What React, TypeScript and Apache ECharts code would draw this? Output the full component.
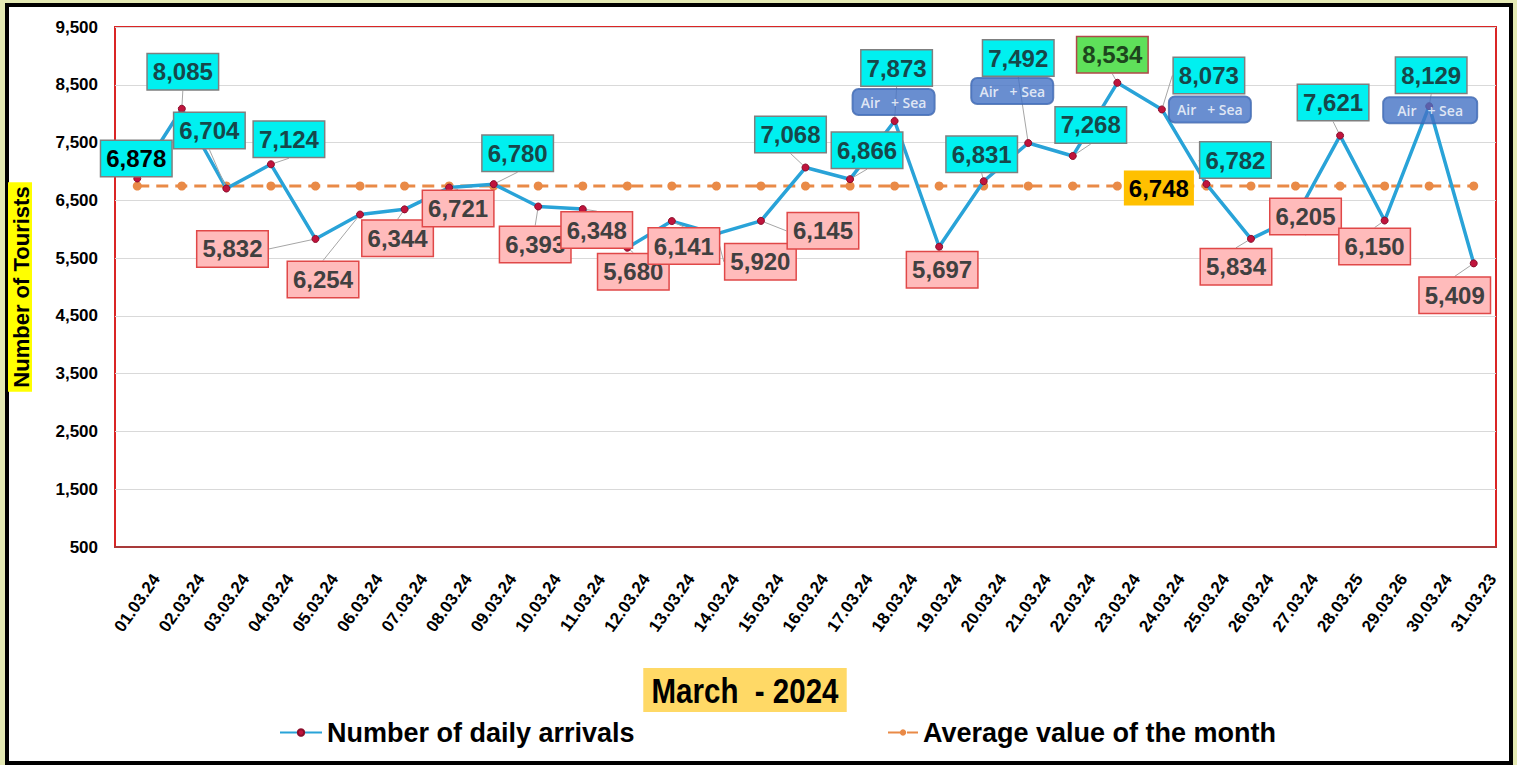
import React, { useEffect, useRef } from 'react';
import * as echarts from 'echarts';

const days = [
  '01.03.24', '02.03.24', '03.03.24', '04.03.24', '05.03.24', '06.03.24', '07.03.24', '08.03.24',
  '09.03.24', '10.03.24', '11.03.24', '12.03.24', '13.03.24', '14.03.24', '15.03.24', '16.03.24',
  '17.03.24', '18.03.24', '19.03.24', '20.03.24', '21.03.24', '22.03.24', '23.03.24', '24.03.24',
  '25.03.24', '26.03.24', '27.03.24', '28.03.25', '29.03.26', '30.03.24', '31.03.23',
];

const dailyArrivals = [
  6878, 8085, 6704, 7124, 5832, 6254, 6344, 6721, 6780, 6393, 6348, 5680, 6141, 5920, 6145, 7068,
  6866, 7873, 5697, 6831, 7492, 7268, 8534, 8073, 6782, 5834, 6205, 7621, 6150, 8129, 5409,
];

const monthAverage = [
  6748, 6748, 6748, 6748, 6748, 6748, 6748, 6748, 6748, 6748, 6748, 6748, 6748, 6748, 6748, 6748,
  6748, 6748, 6748, 6748, 6748, 6748, 6748, 6748, 6748, 6748, 6748, 6748, 6748, 6748, 6748,
];

// label box kind per day: first / hi (cyan) / lo (pink) / max (green)
const labelKind = [
  'first', 'hi', 'hi', 'hi', 'lo', 'lo', 'lo', 'lo', 'hi', 'lo', 'lo', 'lo', 'lo', 'lo', 'lo', 'hi',
  'hi', 'hi', 'lo', 'hi', 'hi', 'hi', 'max', 'hi', 'hi', 'lo', 'lo', 'hi', 'lo', 'hi', 'lo',
];

const airSeaDays = ['18.03.24', '21.03.24', '24.03.24', '30.03.24'];
const airSeaText = 'Air   + Sea';
const averageLabelDay = '24.03.24';

const yMin = 500;
const yMax = 9500;
const yStep = 1000;

// layout (label box centre relative to its point, px)
const labelOffsets = [
  [-1, -20], [1, -37], [-17, -58], [18, -25], [-83, 10], [-37, 65], [-7, 29], [9, 21],
  [24, -31], [-3, 38], [14, 21], [6, 24], [12, 25], [44, 28], [62, 10], [-15, -33],
  [17, -29], [2, -53], [3, 23], [-2, -27], [-10, -85], [18, -31], [-5, -28], [47, -34],
  [29, -24], [-15, 28], [10, -1], [-7, -33], [-10, 26], [2, -31], [-19, 32],
];
const airSeaOffsets = [[-1, -19], [-16, -52], [48, 0], [1, 4]];
const airSeaWidths = [64, 64, 64, 76];

const FONT = '"Liberation Sans", Arial, Helvetica, sans-serif';

const fmt = (v: number) => String(v).replace(/\B(?=(\d{3})+(?!\d))/g, ',');

const kindStyle: Record<string, any> = {
  first: { backgroundColor: '#00F0F0', borderColor: '#7F7F7F', color: '#000000' },
  hi: { backgroundColor: '#00F0F0', borderColor: '#7F7F7F', color: '#17474A' },
  lo: { backgroundColor: '#FFBBBB', borderColor: '#E04848', color: '#404040' },
  max: { backgroundColor: '#5FE05A', borderColor: '#B04848', color: '#1D451D' },
};

export default function App() {
  const ref = useRef<HTMLDivElement>(null);

  useEffect(() => {
    if (!ref.current) return;
    const chart = echarts.init(ref.current, undefined, { renderer: 'svg' });

    const legendText = { fontSize: 27, fontWeight: 'bold', color: '#000', fontFamily: FONT };

    const option: any = {
      animation: false,
      backgroundColor: '#E4E9B3',
      textStyle: { fontFamily: FONT },
      graphic: [
        {
          type: 'rect',
          z: -10,
          silent: true,
          shape: { x: 7, y: 5, width: 1504, height: 758 },
          style: { fill: '#FFFFFF', stroke: '#000000', lineWidth: 4 },
        },
        {
          type: 'text',
          z: 10,
          x: 745,
          y: 690,
          scaleX: 0.82,
          style: {
            text: 'March  - 2024',
            font: `bold 36px ${FONT}`,
            fill: '#000000',
            align: 'center',
            verticalAlign: 'middle',
            backgroundColor: '#FFD966',
            padding: [4, 10],
            lineHeight: 36,
          },
        },
      ],
      legend: [
        {
          data: ['Number of daily arrivals'],
          left: 274,
          top: 714,
          itemWidth: 42,
          itemHeight: 8,
          textStyle: legendText,
        },
        {
          data: ['Average value of the month'],
          left: 882,
          top: 714,
          itemWidth: 30,
          itemHeight: 8,
          textStyle: legendText,
        },
      ],
      grid: {
        left: 112,
        right: 21,
        top: 27,
        bottom: 218,
        show: true,
        backgroundColor: '#FFFFFF',
        borderColor: '#DA2525',
        borderWidth: 2,
      },
      xAxis: {
        type: 'category',
        data: days,
        boundaryGap: true,
        axisLine: { show: true, lineStyle: { color: '#A83A3A', width: 2 } },
        axisTick: { show: false },
        axisLabel: {
          interval: 0,
          rotate: 55,
          align: 'center',
          verticalAlign: 'middle',
          margin: 56,
          fontSize: 17,
          fontWeight: 'bold',
          color: '#000',
          fontFamily: FONT,
        },
      },
      yAxis: {
        type: 'value',
        min: yMin,
        max: yMax,
        interval: yStep,
        axisLine: { show: false },
        axisTick: { show: false },
        splitLine: { lineStyle: { color: '#D9D9D9', width: 1 } },
        axisLabel: {
          formatter: (v: number) => fmt(v),
          fontSize: 17,
          fontWeight: 'bold',
          color: '#000',
          margin: 17,
          fontFamily: FONT,
        },
        name: 'Number of Tourists',
        nameLocation: 'middle',
        nameGap: 83,
        nameTextStyle: {
          fontSize: 22,
          fontWeight: 'bold',
          color: '#000',
          backgroundColor: '#FFFF00',
          padding: [2, 4, 0, 4],
          fontFamily: FONT,
        },
      },
      series: [
        {
          name: 'Average value of the month',
          type: 'line',
          z: 2,
          data: monthAverage.map((v, i) =>
            days[i] === averageLabelDay
              ? {
                  value: v,
                  label: {
                    show: true,
                    position: 'inside',
                    offset: [-3, 2],
                    formatter: (p: any) => fmt(p.value),
                    fontSize: 24,
                    fontWeight: 'bold',
                    color: '#000',
                    backgroundColor: '#FFC000',
                    padding: [5, 5, 4, 5],
                    lineHeight: 26,
                    fontFamily: FONT,
                  },
                }
              : v
          ),
          symbol: 'circle',
          symbolSize: 9,
          lineStyle: { color: '#E98A47', width: 3, type: [12, 7] },
          itemStyle: { color: '#E98A47' },
          label: { show: false },
        },
        {
          name: 'Number of daily arrivals',
          type: 'line',
          z: 3,
          data: dailyArrivals.map((v, i) => ({ value: v, label: { ...kindStyle[labelKind[i]] } })),
          symbol: 'circle',
          symbolSize: 7,
          lineStyle: { color: '#29A3D8', width: 3.5 },
          itemStyle: { color: '#C0143C', borderColor: '#8A0E2C', borderWidth: 1 },
          label: {
            show: true,
            position: 'inside',
            formatter: (p: any) => fmt(p.value),
            fontSize: 24,
            fontWeight: 'bold',
            fontFamily: FONT,
            padding: [5, 5, 4, 5],
            lineHeight: 26,
            borderWidth: 1.5,
          },
          labelLine: { show: true, lineStyle: { color: '#A6A6A6', width: 1 } },
          labelLayout: (p: any) => ({
            dx: labelOffsets[p.dataIndex][0],
            dy: labelOffsets[p.dataIndex][1],
          }),
        },
        {
          name: 'airSea',
          type: 'scatter',
          z: 6,
          silent: true,
          symbolSize: 1,
          itemStyle: { color: 'rgba(0,0,0,0)' },
          data: airSeaDays.map((d, i) => ({
            value: [d, dailyArrivals[days.indexOf(d)]],
            label: { offset: airSeaOffsets[i], width: airSeaWidths[i] },
          })),
          label: {
            show: true,
            position: 'inside',
            formatter: airSeaText,
            color: '#FFFFFF',
            fontSize: 14,
            fontWeight: 600,
            fontFamily: '"Open Sans", "Noto Sans", sans-serif',
            backgroundColor: '#4472C4',
            borderColor: '#3A62A8',
            borderWidth: 1,
            borderRadius: 6,
            padding: [5, 9],
            lineHeight: 16,
            align: 'center',
          },
        },
      ],
    };

    chart.setOption(option);
    return () => chart.dispose();
  }, []);

  return (
    <div
      ref={ref}
      style={{ position: 'absolute', left: 0, top: 0, width: 1517, height: 765 }}
    />
  );
}
